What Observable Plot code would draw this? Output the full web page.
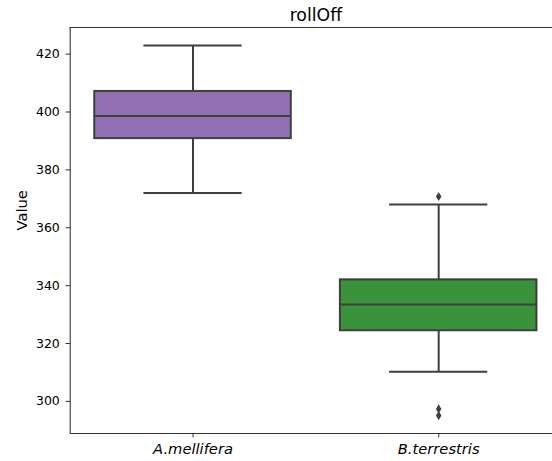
<!DOCTYPE html>
<html>
<head>
<meta charset="utf-8">
<script src="https://cdn.jsdelivr.net/npm/d3@7"></script>
<script src="https://cdn.jsdelivr.net/npm/@observablehq/plot@0.6"></script>
<style>
  html, body { margin: 0; padding: 0; background: #fff; }
  #chart { width: 552px; height: 461px; overflow: hidden; }
</style>
</head>
<body>
<div id="chart"></div>
<script>
// Box summaries of rollOff per species
const categories  = ["A.mellifera", "B.terrestris"];
const whiskerLow  = [372.0, 310.2];
const q1          = [390.8, 324.4];
const median      = [398.6, 333.5];
const q3          = [407.1, 342.0];
const whiskerHigh = [423.0, 368.0];

// Points beyond the whiskers
const outlierCategory = ["B.terrestris", "B.terrestris", "B.terrestris"];
const outlierValue    = [370.8, 297.4, 295.1];

const yTicks = [300, 320, 340, 360, 380, 400, 420];

const fills = ["#9171b1", "#3a923a"];
const lineColor = "#3f3f3f";

const boxes = categories.map((c, i) => ({
  i, c, lo: whiskerLow[i], q1: q1[i], med: median[i], q3: q3[i], hi: whiskerHigh[i], fill: fills[i]
}));
const outliers = outlierValue.map((v, k) => ({i: categories.indexOf(outlierCategory[k]), v}));

// thin diamond marker
const thinDiamond = {
  draw(ctx, size) {
    const h = Math.sqrt(size / Math.PI);
    const w = h * 0.6;
    ctx.moveTo(0, -h);
    ctx.lineTo(w, 0);
    ctx.lineTo(0, h);
    ctx.lineTo(-w, 0);
    ctx.closePath();
  }
};

const font = "DejaVu Sans";
const half = 0.4, cap = 0.2;

const chart = Plot.plot({
  width: 552,
  height: 461,
  marginLeft: 70,
  marginRight: 0,
  marginTop: 27,
  marginBottom: 28,
  style: {fontFamily: font, fontSize: "12.5px", background: "#fff", color: "#000"},
  x: {type: "linear", domain: [-0.5, categories.length - 0.5], range: [69.7, 561]},
  y: {domain: [288.9, 429.2]},
  marks: [
    // whiskers
    Plot.ruleX(boxes, {x: "i", y1: "q3", y2: "hi", stroke: lineColor, strokeWidth: 2}),
    Plot.ruleX(boxes, {x: "i", y1: "lo", y2: "q1", stroke: lineColor, strokeWidth: 2}),
    Plot.ruleY(boxes, {y: "hi", x1: d => d.i - cap, x2: d => d.i + cap, stroke: lineColor, strokeWidth: 2}),
    Plot.ruleY(boxes, {y: "lo", x1: d => d.i - cap, x2: d => d.i + cap, stroke: lineColor, strokeWidth: 2}),
    // boxes
    Plot.rect(boxes, {x1: d => d.i - half, x2: d => d.i + half, y1: "q1", y2: "q3",
      fill: "fill", stroke: lineColor, strokeWidth: 2}),
    Plot.ruleY(boxes, {y: "med", x1: d => d.i - half, x2: d => d.i + half, stroke: lineColor, strokeWidth: 2}),
    // fliers
    Plot.dot(outliers, {x: "i", y: "v", r: 4.6, symbol: thinDiamond, fill: lineColor, stroke: "none"}),
    // spines
    Plot.ruleX([-0.5], {stroke: "#333", strokeWidth: 1.1}),
    Plot.ruleY([288.9, 429.2], {x1: -0.5, x2: categories.length - 0.5, stroke: "#333", strokeWidth: 1.1}),
    // axes
    Plot.axisY({ticks: yTicks, tickSize: 4.5, tickPadding: 6.2, label: null, fontSize: 12.5, stroke: "#333"}),
    Plot.axisX({ticks: categories.map((c, i) => i), tickFormat: i => categories[i],
      tickSize: 4.3, tickPadding: 5.7, label: null, fontSize: 14.7, fontStyle: "italic", stroke: "#333"}),
    // y label
    Plot.text(["Value"], {frameAnchor: "left", dx: -48, rotate: -90, fontSize: 14.7, fill: "#000"}),
    // title
    Plot.text(["rollOff"], {x: (categories.length - 1) / 2, frameAnchor: "top", dy: -6.3,
      lineAnchor: "bottom", fontSize: 17.3, fill: "#000"})
  ]
});

document.getElementById("chart").appendChild(chart);
</script>
</body>
</html>
